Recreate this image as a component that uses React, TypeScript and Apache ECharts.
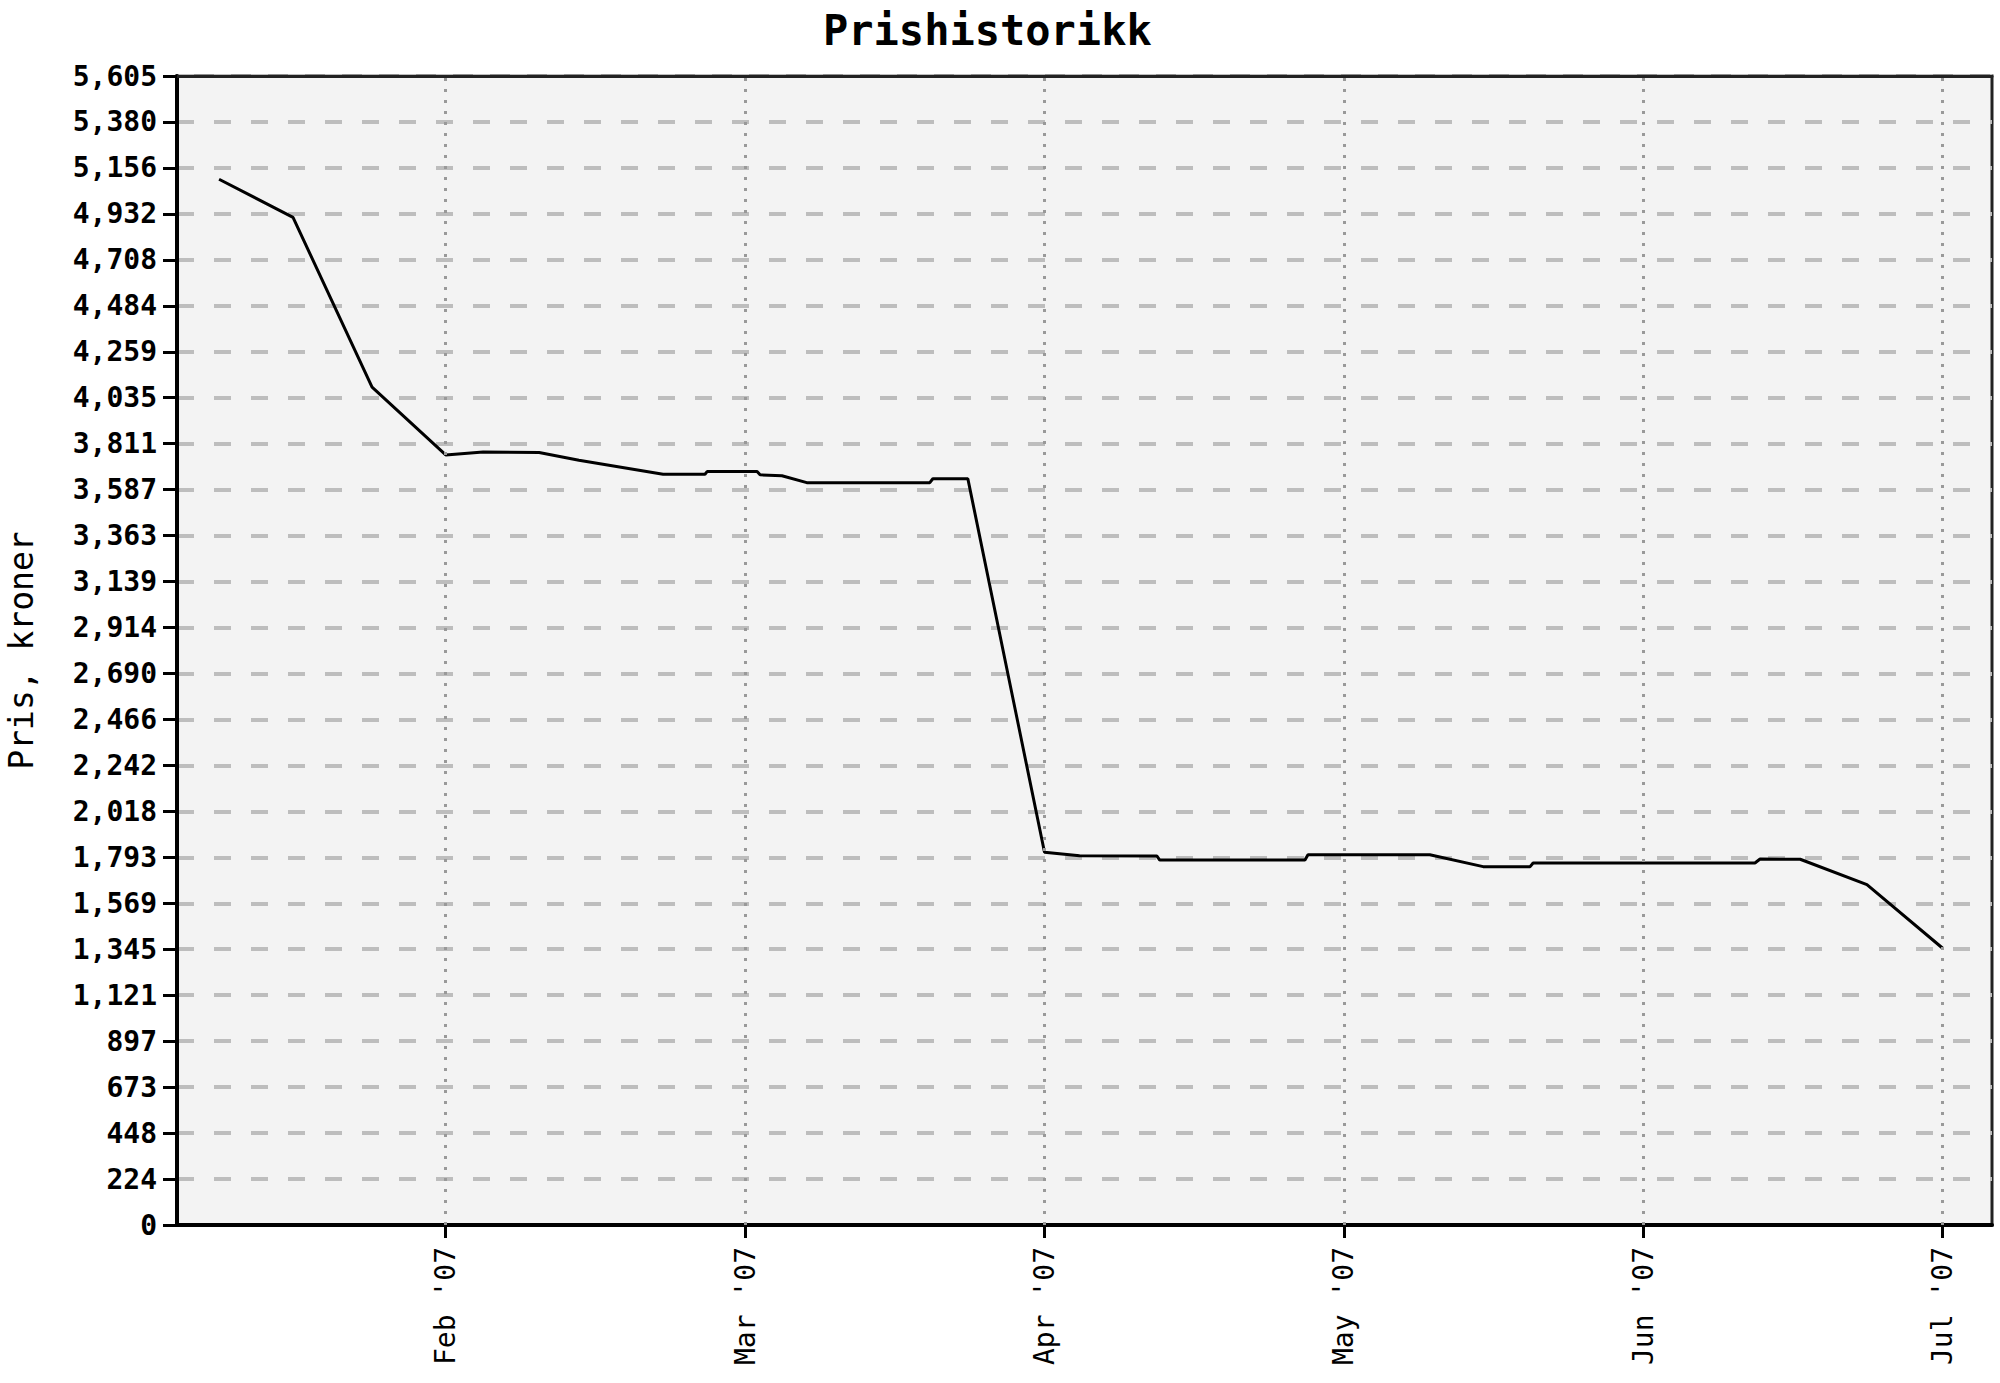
import React, { useEffect, useRef } from 'react';
import * as echarts from 'echarts';

// posisjon i måneder (1 = Feb '07, 6 = Jul '07) og pris i kroner
const priceMonths = [
  0.243, 0.49, 0.754, 1.0, 1.125, 1.312, 1.445, 1.726, 1.866, 1.873, 2.04, 2.05,
  2.123, 2.206, 2.617, 2.627, 2.744, 3.0, 3.117, 3.375, 3.385, 3.87, 3.88, 4.287,
  4.465, 4.622, 4.632, 5.373, 5.39, 5.524, 5.747, 6.0,
];
const priceValues = [
  5101, 4915, 4087, 3756, 3770, 3768, 3730, 3662, 3662, 3675, 3675, 3659,
  3655, 3621, 3621, 3640, 3640, 1818, 1801, 1800, 1780, 1780, 1806, 1806,
  1748, 1748, 1766, 1766, 1785, 1784, 1660, 1350,
];

const monthTicks = [1, 2, 3, 4, 5, 6];
const monthLabels = ["Feb '07", "Mar '07", "Apr '07", "May '07", "Jun '07", "Jul '07"];

const yTickLabels = [
  '0', '224', '448', '673', '897', '1,121', '1,345', '1,569', '1,793', '2,018',
  '2,242', '2,466', '2,690', '2,914', '3,139', '3,363', '3,587', '3,811', '4,035',
  '4,259', '4,484', '4,708', '4,932', '5,156', '5,380', '5,605',
];

const Y_MAX = 5604.55;
const X_MIN = 0.1025;
const X_MAX = 6.1647;
const MONO = '"DejaVu Sans Mono", monospace';

const PriceChart: React.FC = () => {
  const chartRef: any = useRef();

  useEffect(() => {
    const chart = echarts.init(chartRef.current, null, { renderer: 'svg' });
    const step = Y_MAX / (yTickLabels.length - 1);
    const option = {
      animation: false,
      backgroundColor: '#ffffff',
      title: {
        text: 'Prishistorikk',
        left: 818,
        top: 4,
        textStyle: { fontFamily: MONO, fontSize: 42, fontWeight: 'bold', color: '#000' },
      },
      grid: {
        left: 177,
        right: 8,
        top: 76,
        bottom: 158,
        outerBoundsMode: 'none',
        containLabel: false,
        show: true,
        backgroundColor: '#f3f3f3',
        borderColor: '#222',
        borderWidth: 3,
      },
      xAxis: [
        {
          type: 'value',
          min: X_MIN,
          max: X_MAX,
          axisLine: { show: true, onZero: false, lineStyle: { color: '#000', width: 4 } },
          axisTick: {
            show: true,
            customValues: monthTicks,
            length: 13,
            lineStyle: { color: '#000', width: 3 },
          },
          axisLabel: {
            customValues: monthTicks,
            rotate: 90,
            margin: 22,
            fontFamily: MONO,
            fontSize: 28,
            color: '#000',
            formatter: (v: number) => monthLabels[Math.round(v) - 1] ?? '',
          },
          splitLine: { show: false },
        },
        {
          // øvre ramme
          type: 'value',
          position: 'top',
          min: X_MIN,
          max: X_MAX,
          axisLine: { show: true, onZero: false, lineStyle: { color: '#222', width: 3 } },
          axisTick: { show: false },
          axisLabel: { show: false },
          splitLine: { show: false },
        },
      ],
      yAxis: {
        type: 'value',
        min: 0,
        max: Y_MAX,
        interval: step,
        name: 'Pris, kroner',
        nameLocation: 'middle',
        nameGap: 139,
        nameTextStyle: { fontFamily: MONO, fontSize: 33, color: '#000' },
        axisLine: { show: true, lineStyle: { color: '#000', width: 4 } },
        axisTick: { show: true, length: 14, lineStyle: { color: '#000', width: 3 } },
        axisLabel: {
          margin: 20,
          fontFamily: MONO,
          fontSize: 28,
          fontWeight: 'bold',
          color: '#000',
          formatter: (v: number) => yTickLabels[Math.round(v / step)] ?? '',
        },
        splitLine: {
          show: true,
          showMaxLine: false,
          lineStyle: { color: '#bdbdbd', width: 4, type: [17, 20] },
        },
      },
      series: [
        {
          type: 'line',
          data: [],
          silent: true,
          z: 1,
          markLine: {
            silent: true,
            symbol: 'none',
            label: { show: false },
            lineStyle: { color: '#999999', width: 3, type: [3, 8] },
            data: monthTicks.map((m) => ({ xAxis: m })),
          },
        },
        {
          type: 'line',
          z: 3,
          data: priceMonths.map((m, i) => [m, priceValues[i]]),
          showSymbol: false,
          lineStyle: { color: '#000', width: 3 },
        },
      ],
    };
    chart.setOption(option);
    return () => {
      chart.dispose();
    };
  }, []);

  return (
    <div
      ref={chartRef}
      style={{ position: 'fixed', left: 0, top: 0, width: 2000, height: 1383 }}
    ></div>
  );
};

export default function App() {
  return <PriceChart />;
}
